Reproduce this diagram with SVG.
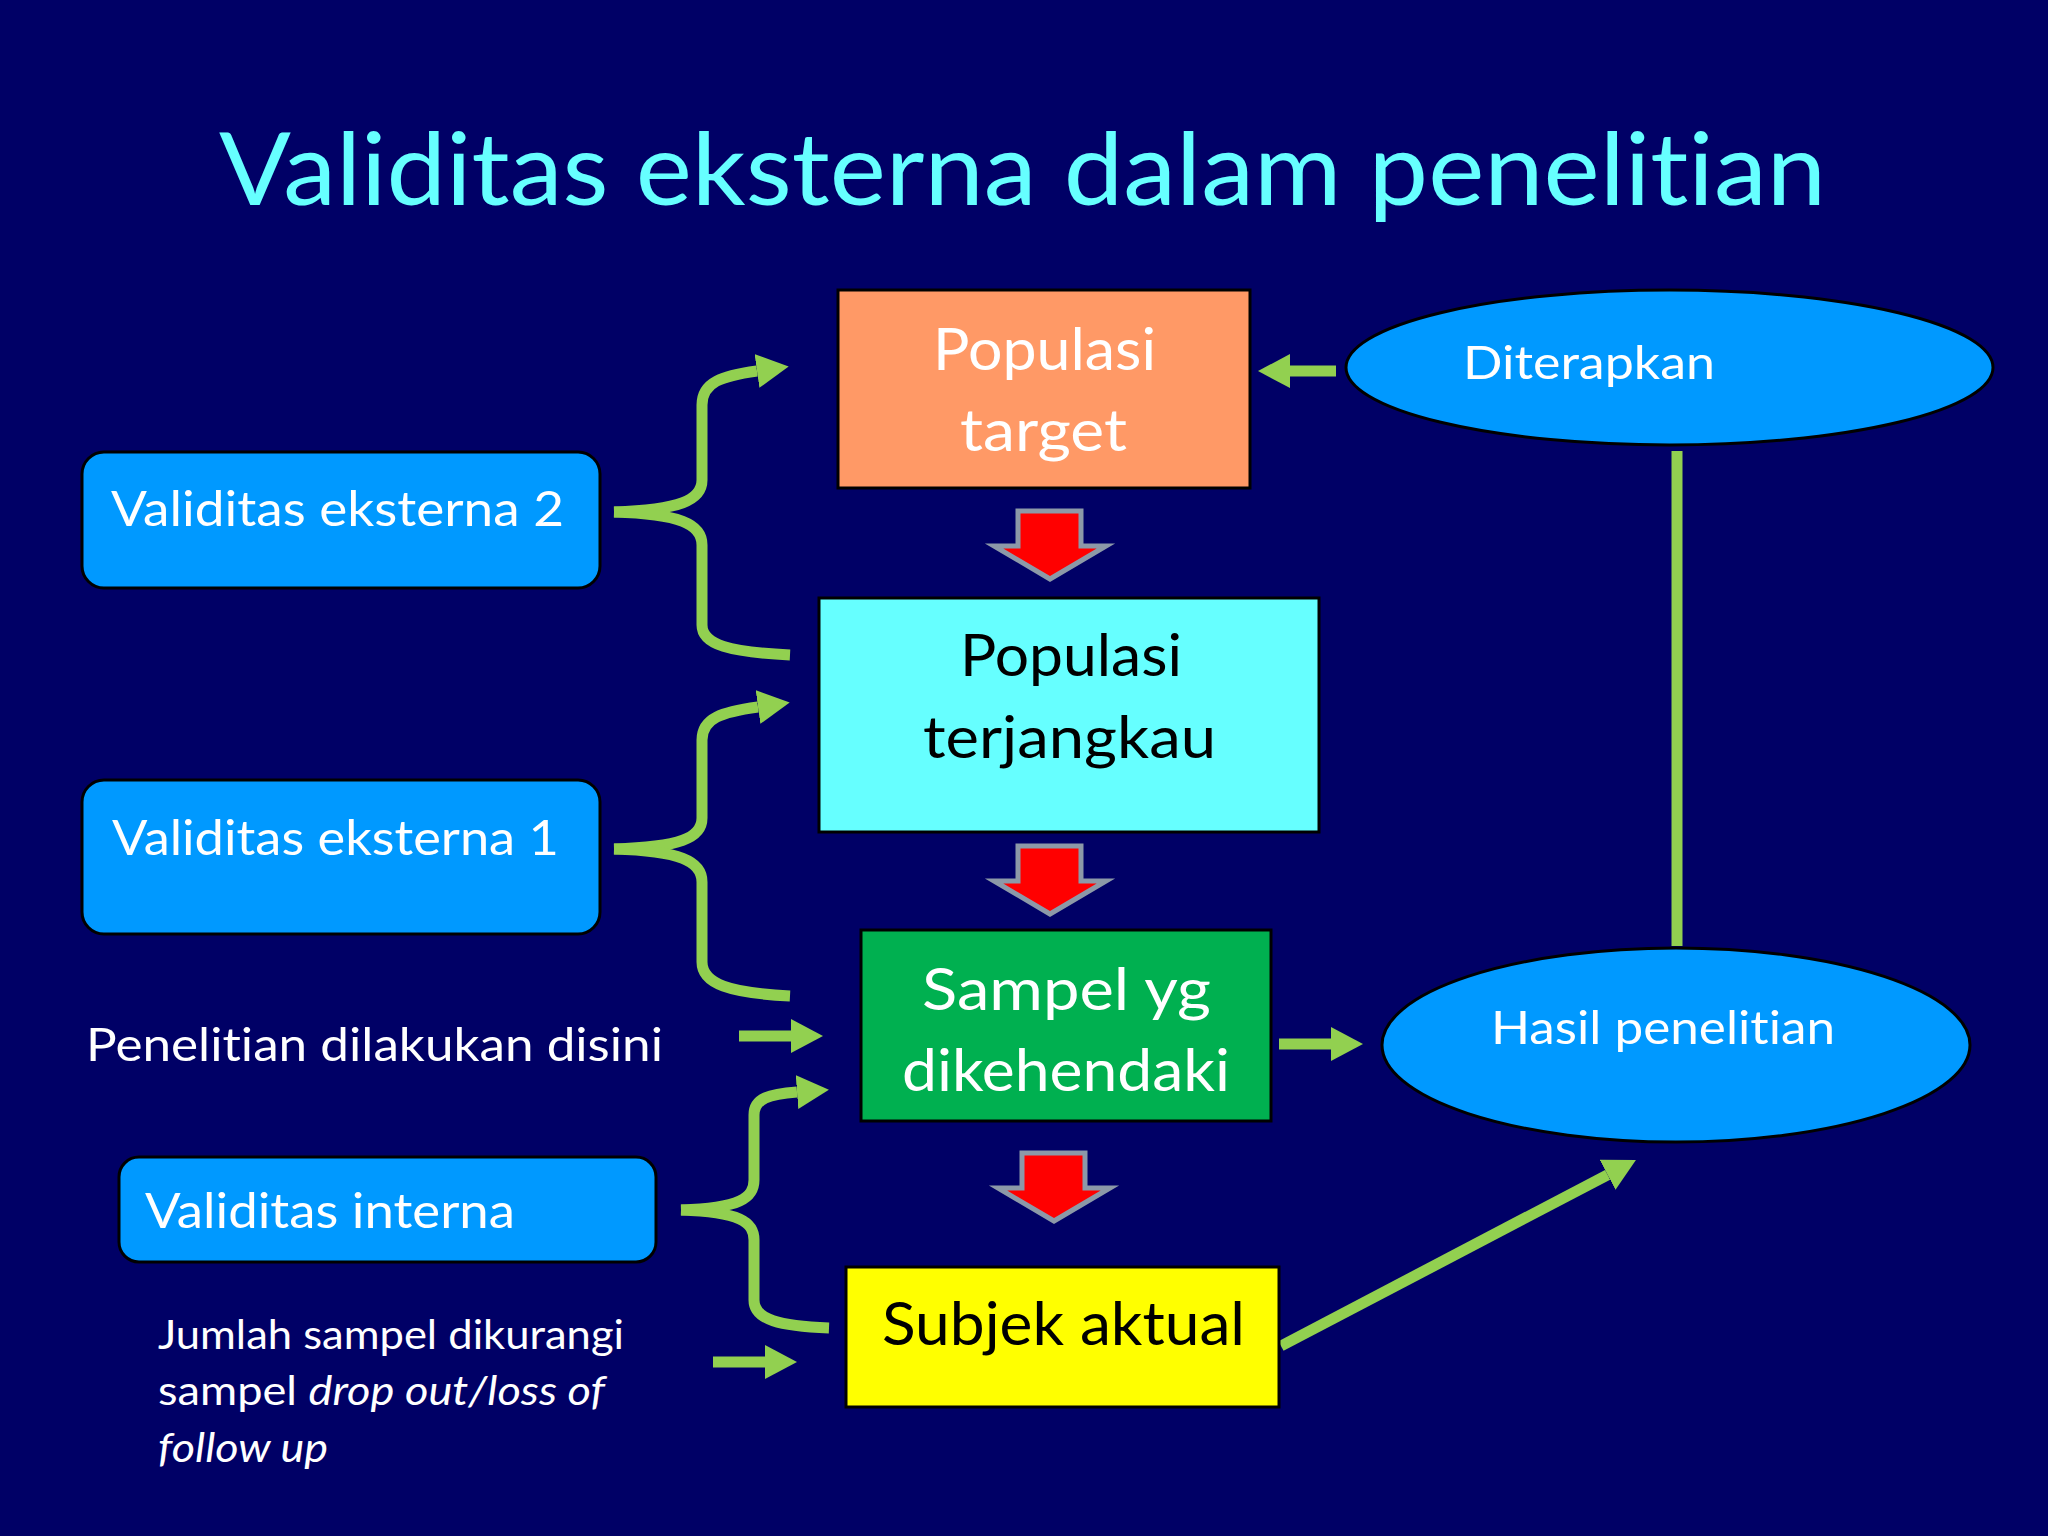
<svg xmlns="http://www.w3.org/2000/svg" width="2048" height="1536" viewBox="0 0 2048 1536">
<defs>
<style>
.t{font-family:Lato,"Open Sans","Liberation Sans",sans-serif;font-variant-ligatures:none;font-feature-settings:"liga" 0,"clig" 0;}
.w{fill:#FFFFFF;}
.k{fill:#000000;}
.box{stroke:#000000;stroke-width:3;}
.ell{fill:#0099FF;stroke:#000000;stroke-width:3;}
.g{fill:none;stroke:#92D050;stroke-width:11;}
.red{fill:#FF0000;stroke:#8C99A8;stroke-width:5;stroke-linejoin:miter;}
</style>
<marker id="ga" viewBox="0 -17 32 34" markerWidth="32" markerHeight="34" refX="0" refY="0" orient="auto" markerUnits="userSpaceOnUse">
<path d="M0,-17 L32,0 L0,17 z" fill="#92D050"/>
</marker>
</defs>
<rect x="0" y="0" width="2048" height="1536" fill="#000066"/>
<text class="t" x="219" y="205" font-size="100" fill="#66FFFF" textLength="1607" lengthAdjust="spacingAndGlyphs">Validitas eksterna dalam penelitian</text>

<g id="connectors">
<path class="g" d="M1336,371 L1290,371" marker-end="url(#ga)"/>
<path class="g" d="M1279,1044 L1331,1044" marker-end="url(#ga)"/>
<path class="g" d="M1281,1346 L1607.6,1174.8" marker-end="url(#ga)"/>
<path class="g" d="M739,1036 L791,1036" marker-end="url(#ga)"/>
<path class="g" d="M713,1362 L765,1362" marker-end="url(#ga)"/>
<path class="g" d="M1677,451 L1677,946"/>
<path class="g" d="M614,512 C680,510 702,500 702,480 L702,405 C702,382 722,376 757,371" marker-end="url(#ga)"/>
<path class="g" d="M614,512 C680,514 702,524 702,545 L702,625 C702,645 730,652 790,655"/>
<path class="g" d="M614,849 C680,847 702,838 702,818 L702,740 C702,718 722,712 758,707" marker-end="url(#ga)"/>
<path class="g" d="M614,849 C680,851 702,861 702,882 L702,962 C702,984 730,993 790,996"/>
<path class="g" d="M681,1210 C740,1208 754,1198 754,1180 L754,1115 C754,1098 770,1094 797,1092" marker-end="url(#ga)"/>
<path class="g" d="M681,1210 C740,1212 754,1222 754,1240 L754,1300 C754,1320 780,1326 829,1328"/>
<polygon class="red" points="1018,511 1081,511 1081,546 1106,546 1050,579 994,546 1018,546"/>
<polygon class="red" points="1018,846 1081,846 1081,881 1106,881 1050,914 994,881 1018,881"/>
<polygon class="red" points="1022,1153 1085,1153 1085,1188 1110,1188 1054,1221 998,1188 1022,1188"/>
</g>

<g id="populasi-target">
<rect class="box" x="838" y="290" width="412" height="198" fill="#FF9966"/>
<text class="t w" x="933" y="370" font-size="58" textLength="223" lengthAdjust="spacingAndGlyphs">Populasi</text>
<text class="t w" x="960" y="451" font-size="58" textLength="167" lengthAdjust="spacingAndGlyphs">target</text>
</g>
<g id="populasi-terjangkau">
<rect class="box" x="819" y="598" width="500" height="234" fill="#66FFFF"/>
<text class="t k" x="960" y="676" font-size="58" textLength="222" lengthAdjust="spacingAndGlyphs">Populasi</text>
<text class="t k" x="923" y="758" font-size="58" textLength="293" lengthAdjust="spacingAndGlyphs">terjangkau</text>
</g>
<g id="sampel">
<rect class="box" x="861" y="930" width="410" height="191" fill="#00B050"/>
<text class="t w" x="922" y="1010" font-size="58" textLength="289" lengthAdjust="spacingAndGlyphs">Sampel yg</text>
<text class="t w" x="902" y="1091" font-size="58" textLength="328" lengthAdjust="spacingAndGlyphs">dikehendaki</text>
</g>
<g id="subjek">
<rect class="box" x="846" y="1267" width="433" height="140" fill="#FFFF00"/>
<text class="t k" x="882" y="1345" font-size="60" textLength="363" lengthAdjust="spacingAndGlyphs">Subjek aktual</text>
</g>
<g id="diterapkan">
<ellipse class="ell" cx="1669.5" cy="367.5" rx="323.5" ry="77.5"/>
<text class="t w" x="1463" y="379" font-size="47" textLength="252" lengthAdjust="spacingAndGlyphs">Diterapkan</text>
</g>
<g id="hasil">
<ellipse class="ell" cx="1676" cy="1045" rx="294" ry="97"/>
<text class="t w" x="1491" y="1044" font-size="47" textLength="344" lengthAdjust="spacingAndGlyphs">Hasil penelitian</text>
</g>
<g id="val-eks-2">
<rect class="box" x="82" y="452" width="518" height="136" rx="22" fill="#0099FF"/>
<text class="t w" x="111" y="526" font-size="48" textLength="453" lengthAdjust="spacingAndGlyphs">Validitas eksterna 2</text>
</g>
<g id="val-eks-1">
<rect class="box" x="82" y="780" width="518" height="154" rx="22" fill="#0099FF"/>
<text class="t w" x="112" y="855" font-size="48" textLength="447" lengthAdjust="spacingAndGlyphs">Validitas eksterna 1</text>
</g>
<g id="val-interna">
<rect class="box" x="119" y="1157" width="537" height="105" rx="20" fill="#0099FF"/>
<text class="t w" x="145" y="1228" font-size="48" textLength="370" lengthAdjust="spacingAndGlyphs">Validitas interna</text>
</g>
<g id="penelitian-label">
<text class="t w" x="86" y="1061" font-size="46" textLength="577" lengthAdjust="spacingAndGlyphs">Penelitian dilakukan disini</text>
</g>
<g id="jumlah-label">
<text class="t w" x="158" y="1349" font-size="40" textLength="466" lengthAdjust="spacingAndGlyphs">Jumlah sampel dikurangi</text>
<text class="t w" x="158" y="1405" font-size="40" textLength="447" lengthAdjust="spacingAndGlyphs">sampel <tspan font-style="italic">drop out/loss of</tspan></text>
<text class="t w" x="158" y="1462" font-size="40" font-style="italic" textLength="170" lengthAdjust="spacingAndGlyphs">follow up</text>
</g>
</svg>
